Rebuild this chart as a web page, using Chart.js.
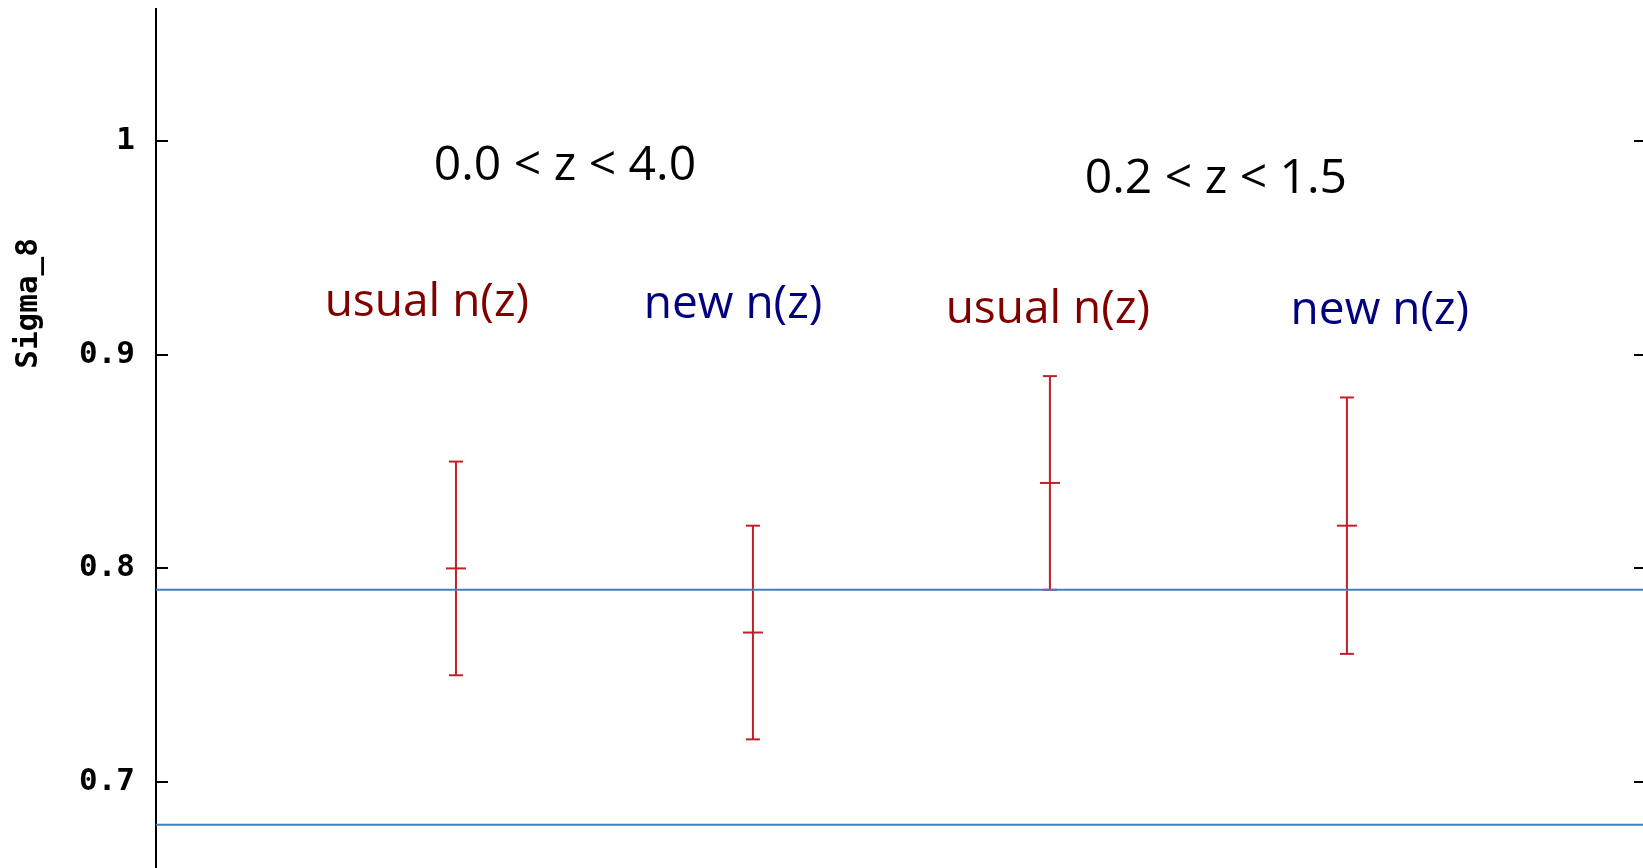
<!DOCTYPE html>
<html>
<head>
<meta charset="utf-8">
<script src="https://cdn.jsdelivr.net/npm/chart.js@4/dist/chart.umd.min.js"></script>
<style>
  html, body { margin: 0; padding: 0; background: #ffffff; overflow: hidden; }
  canvas { display: block; }
</style>
</head>
<body>
<canvas id="c" width="1643" height="868" style="width:1643px;height:868px"></canvas>
<script>
// ---- data ----
const categories = ['usual n(z), 0.0<z<4.0', 'new n(z), 0.0<z<4.0', 'usual n(z), 0.2<z<1.5', 'new n(z), 0.2<z<1.5'];
const xPositions = [1, 2, 3, 4];
const sigma8 = [0.80, 0.77, 0.84, 0.82];
const sigma8Low = [0.75, 0.72, 0.79, 0.76];
const sigma8High = [0.85, 0.82, 0.89, 0.88];
const referenceLines = [0.79, 0.68];
const yTicks = [0.7, 0.8, 0.9, 1.0];
const yTickLabels = ['0.7', '0.8', '0.9', '1'];
const annotationTexts = ['0.0 < z < 4.0', '0.2 < z < 1.5', 'usual n(z)', 'new n(z)', 'usual n(z)', 'new n(z)'];

// ---- layout / style (not data) ----
const X_MIN = -0.01, X_MAX = 4.997;
const annotationPlacement = [
  { x: 1.367, y: 0.9817, color: '#000000' },
  { x: 3.559, y: 0.9757, color: '#000000' },
  { x: 0.902, y: 0.9181, color: '#800000' },
  { x: 1.933, y: 0.9172, color: '#000080' },
  { x: 2.993, y: 0.9148, color: '#800000' },
  { x: 4.111, y: 0.9146, color: '#000080' }
];
const RED = 'rgb(194,32,36)';
const BLUE = 'rgb(66,128,192)';

// build datasets from arrays
const stemData = [];
xPositions.forEach((x, i) => {
  stemData.push({ x: x, y: sigma8Low[i] });
  stemData.push({ x: x, y: sigma8High[i] });
  stemData.push({ x: x, y: null });
});
const centerData = xPositions.map((x, i) => ({ x: x, y: sigma8[i] }));
const capData = [];
xPositions.forEach((x, i) => {
  capData.push({ x: x, y: sigma8Low[i] });
  capData.push({ x: x, y: sigma8High[i] });
});
const refDatasets = referenceLines.map(v => ({
  type: 'line',
  data: [{ x: X_MIN, y: v }, { x: X_MAX, y: v }],
  borderColor: BLUE,
  borderWidth: 2,
  pointRadius: 0,
  fill: false
}));

const decorPlugin = {
  id: 'decor',
  afterDraw(chart) {
    const ctx = chart.ctx;
    const y = chart.scales.y, x = chart.scales.x;
    const area = chart.chartArea;
    ctx.save();
    // inward tick marks on both sides
    ctx.strokeStyle = '#000';
    ctx.lineWidth = 2;
    yTicks.forEach(v => {
      const py = Math.round(y.getPixelForValue(v));
      ctx.beginPath();
      ctx.moveTo(area.left, py);
      ctx.lineTo(area.left + 12, py);
      ctx.moveTo(area.right - 9, py);
      ctx.lineTo(area.right, py);
      ctx.stroke();
    });
    // annotation texts
    ctx.textAlign = 'center';
    ctx.textBaseline = 'alphabetic';
    annotationTexts.forEach((t, i) => {
      const p = annotationPlacement[i];
      ctx.font = (i < 2 ? '48px' : '46px') + ' "Open Sans"';
      ctx.fillStyle = p.color;
      ctx.fillText(t, x.getPixelForValue(p.x), y.getPixelForValue(p.y));
    });
    // y-axis title
    ctx.translate(29, y.getPixelForValue(0.924));
    ctx.rotate(-Math.PI / 2);
    ctx.font = 'bold 31px "DejaVu Sans Mono"';
    ctx.fillStyle = '#000';
    ctx.textAlign = 'center';
    ctx.textBaseline = 'middle';
    ctx.fillText('Sigma_8', 0, 0);
    ctx.restore();
  }
};

new Chart(document.getElementById('c'), {
  type: 'scatter',
  data: {
    datasets: [
      ...refDatasets,
      {
        type: 'line',
        label: 'error bars',
        data: stemData,
        borderColor: RED,
        borderWidth: 2,
        pointRadius: 0,
        spanGaps: false,
        fill: false
      },
      {
        label: 'caps',
        data: capData,
        pointStyle: 'line',
        pointRadius: 7,
        borderColor: RED,
        borderWidth: 2,
        pointHoverRadius: 7
      },
      {
        label: 'sigma_8',
        data: centerData,
        pointStyle: 'line',
        pointRadius: 10,
        borderColor: RED,
        borderWidth: 2,
        pointHoverRadius: 10
      }
    ]
  },
  options: {
    responsive: false,
    devicePixelRatio: 1,
    animation: false,
    layout: { autoPadding: false, padding: { top: 9, right: 0, bottom: 0, left: 0 } },
    plugins: { legend: { display: false }, tooltip: { enabled: false } },
    scales: {
      x: { type: 'linear', min: X_MIN, max: X_MAX, display: false },
      y: {
        type: 'linear',
        min: 0.6598,
        max: 1.0618,
        afterFit(scale) {
          scale.width = 156;
          scale.paddingTop = 0;
          scale.paddingBottom = 0;
        },
        border: { display: true, color: '#000', width: 2 },
        grid: { display: true, drawOnChartArea: false, drawTicks: false },
        title: { display: false },
        ticks: {
          stepSize: 0.1,
          includeBounds: false,
          padding: 21,
          color: '#000',
          font: { family: '"DejaVu Sans Mono"', size: 31, weight: 'bold' },
          callback(v) {
            const r = Math.round(v * 10) / 10;
            const i = yTicks.findIndex(t => Math.abs(t - r) < 1e-9);
            return i >= 0 ? yTickLabels[i] : '';
          }
        }
      }
    }
  },
  plugins: [decorPlugin]
});
</script>
</body>
</html>
